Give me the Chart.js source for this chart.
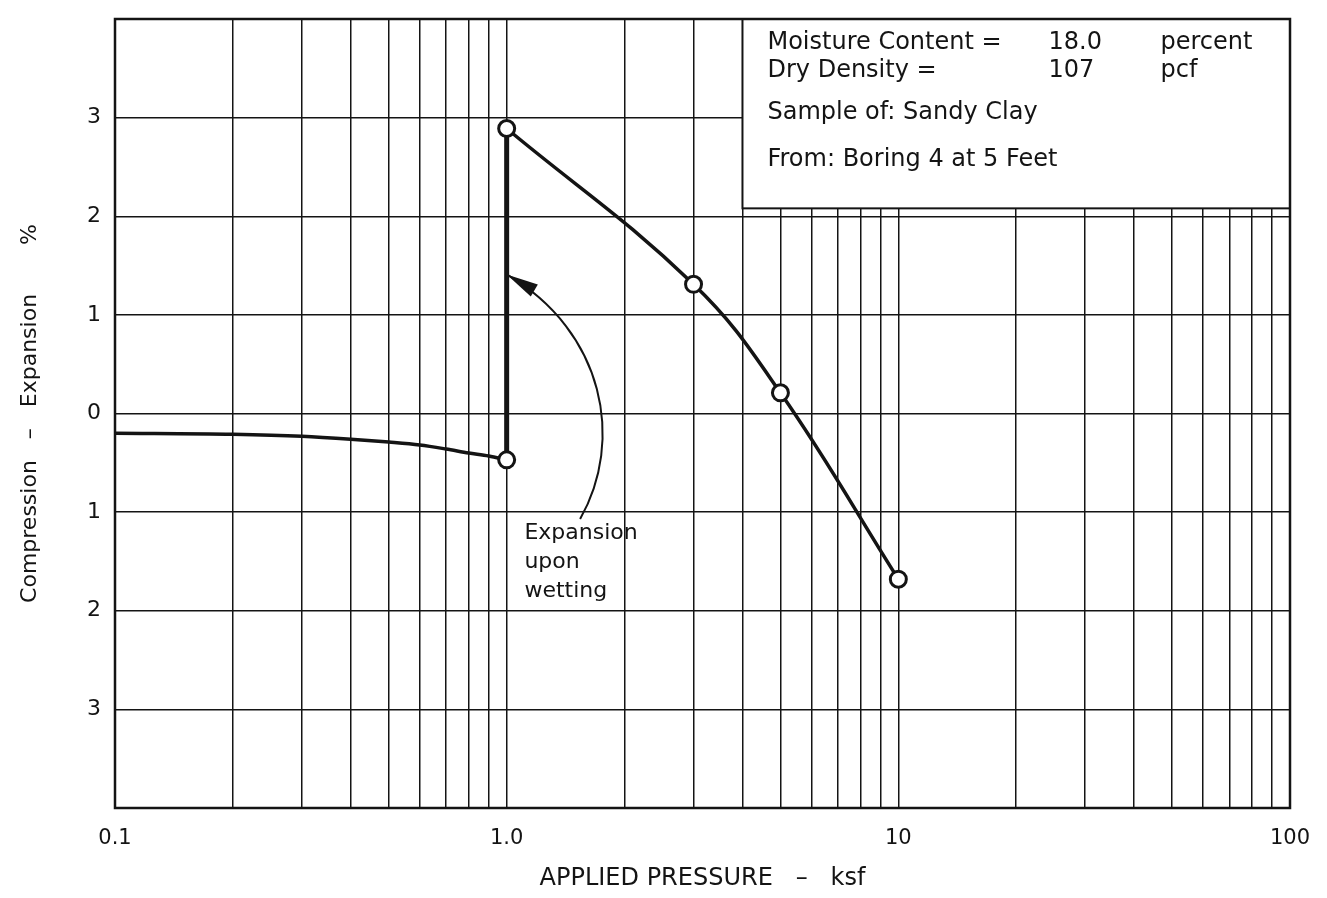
<!DOCTYPE html>
<html lang="en">
<head>
    <meta charset="UTF-8">
    <script src="https://cdn.jsdelivr.net/npm/chart.js@4.4.0/dist/chart.umd.min.js"></script>
    <title>Swell test</title>
    <style>
        html, body { margin: 0; padding: 0; background: #fff; }
    </style>
</head>
<body>
    <canvas id="myChart" width="1327" height="898"></canvas>
    <script>
        // seating load, before wetting
        const dryPressure = [0.1, 0.2, 0.3, 0.4, 0.5, 0.6, 0.7, 0.8, 0.9, 1.0];
        const dryStrain = [-0.20, -0.21, -0.23, -0.26, -0.29, -0.32, -0.36, -0.40, -0.43, -0.47];
        // wetting at 1.0 ksf
        const wetPressure = [1.0, 1.0];
        const wetStrain = [-0.47, 2.89];
        // loading after wetting
        const loadPressure = [1.0, 3.0, 5.0, 10.0];
        const loadStrain = [2.89, 1.31, 0.21, -1.68];

        const xTicks = [0.1, 0.2, 0.3, 0.4, 0.5, 0.6, 0.7, 0.8, 0.9,
            1, 2, 3, 4, 5, 6, 7, 8, 9,
            10, 20, 30, 40, 50, 60, 70, 80, 90, 100];
        const xLabelValues = [0.1, 1, 10, 100];
        const xLabelText = ['0.1', '1.0', '10', '100'];

        const infoRows = [
            ['Moisture Content =', '18.0', 'percent'],
            ['Dry Density =', '107', 'pcf']
        ];
        const infoLines = ['Sample of: Sandy Clay', 'From: Boring 4 at 5 Feet'];
        const noteLines = ['Expansion', 'upon', 'wetting'];

        const ink = '#141414';
        const font = 'DejaVu Sans';

        function xy(xs, ys) {
            return xs.map((x, i) => ({ x: x, y: ys[i] }));
        }

        // white info box over the grid, frame, note and arrow
        const extras = {
            id: 'extras',
            beforeDatasetsDraw(chart) {
                const { ctx, chartArea, scales: { x, y } } = chart;
                const bx = x.getPixelForValue(4);
                const by = y.getPixelForValue(2.08);
                ctx.save();
                ctx.fillStyle = '#fff';
                ctx.fillRect(bx, chartArea.top, chartArea.right - bx, by - chartArea.top);
                ctx.strokeStyle = ink;
                ctx.lineWidth = 2;
                ctx.strokeRect(bx, chartArea.top, chartArea.right - bx, by - chartArea.top);

                ctx.fillStyle = ink;
                ctx.font = '24px "' + font + '"';
                ctx.textBaseline = 'middle';
                ctx.textAlign = 'left';
                const colX = [bx + 25, bx + 306, bx + 418];
                infoRows.forEach((row, r) => {
                    row.forEach((t, c) => ctx.fillText(t, colX[c], chartArea.top + 24 + r * 28));
                });
                infoLines.forEach((t, i) => ctx.fillText(t, colX[0], chartArea.top + 94 + i * 47));

                // note text
                ctx.font = '22px "' + font + '"';
                const nx = x.getPixelForValue(1.11);
                const ny = y.getPixelForValue(-1.21);
                noteLines.forEach((t, i) => ctx.fillText(t, nx, ny + i * 29));

                // curved arrow
                const S = [x.getPixelForValue(1.54), y.getPixelForValue(-1.07)];
                const C1 = [x.getPixelForValue(2.0), y.getPixelForValue(-0.28)];
                const C2 = [x.getPixelForValue(1.78), y.getPixelForValue(0.83)];
                const T = [x.getPixelForValue(1.0), y.getPixelForValue(1.41)];
                ctx.lineWidth = 2;
                ctx.beginPath();
                ctx.moveTo(S[0], S[1]);
                ctx.bezierCurveTo(C1[0], C1[1], C2[0], C2[1], T[0], T[1]);
                ctx.stroke();
                const ang = Math.atan2(T[1] - C2[1], T[0] - C2[0]);
                const len = 32, half = 7;
                ctx.beginPath();
                ctx.moveTo(T[0], T[1]);
                ctx.lineTo(T[0] - len * Math.cos(ang) + half * Math.sin(ang), T[1] - len * Math.sin(ang) - half * Math.cos(ang));
                ctx.lineTo(T[0] - len * Math.cos(ang) - half * Math.sin(ang), T[1] - len * Math.sin(ang) + half * Math.cos(ang));
                ctx.closePath();
                ctx.fill();
                ctx.restore();
            },
            afterDatasetsDraw(chart) {
                const { ctx, chartArea } = chart;
                ctx.save();
                ctx.strokeStyle = ink;
                ctx.lineWidth = 2.5;
                ctx.strokeRect(chartArea.left, chartArea.top, chartArea.right - chartArea.left, chartArea.bottom - chartArea.top);
                ctx.restore();
            }
        };

        const ctx = document.getElementById('myChart').getContext('2d');
        const myChart = new Chart(ctx, {
            type: 'line',
            data: {
                datasets: [{
                    label: 'wetting',
                    data: xy(wetPressure, wetStrain),
                    borderColor: ink,
                    borderWidth: 5,
                    pointRadius: 0,
                    order: 3
                }, {
                    label: 'before wetting',
                    data: xy(dryPressure, dryStrain),
                    borderColor: ink,
                    borderWidth: 3.5,
                    cubicInterpolationMode: 'monotone',
                    pointRadius: c => c.dataIndex === dryPressure.length - 1 ? 8 : 0,
                    pointBackgroundColor: '#fff',
                    pointBorderColor: ink,
                    pointBorderWidth: 3,
                    order: 2
                }, {
                    label: 'after wetting',
                    data: xy(loadPressure, loadStrain),
                    borderColor: ink,
                    borderWidth: 3.5,
                    tension: 0.4,
                    pointRadius: 8,
                    pointBackgroundColor: '#fff',
                    pointBorderColor: ink,
                    pointBorderWidth: 3,
                    order: 1
                }]
            },
            options: {
                responsive: false,
                animation: false,
                layout: { padding: { top: 19, right: 37, left: 0, bottom: 0 } },
                plugins: {
                    legend: { display: false },
                    tooltip: { enabled: false }
                },
                scales: {
                    x: {
                        type: 'logarithmic',
                        min: 0.1,
                        max: 100,
                        afterBuildTicks: s => { s.ticks = xTicks.map(v => ({ value: v })); },
                        afterFit: s => { s.height = 90; s.paddingLeft = 0; s.paddingRight = 0; },
                        grid: { color: ink, lineWidth: 1.5, drawTicks: false },
                        border: { display: false },
                        ticks: {
                            autoSkip: false,
                            maxRotation: 0,
                            padding: 18,
                            color: ink,
                            font: { family: font, size: 21 },
                            callback: v => {
                                const i = xLabelValues.indexOf(v);
                                return i < 0 ? '' : xLabelText[i];
                            }
                        },
                        title: {
                            display: true,
                            text: 'APPLIED PRESSURE   –   ksf',
                            color: ink,
                            font: { family: font, size: 24 },
                            padding: { top: 0, bottom: 5 }
                        }
                    },
                    y: {
                        min: -4,
                        max: 4,
                        afterFit: s => { s.width = 115; s.paddingTop = 0; s.paddingBottom = 0; },
                        grid: { color: ink, lineWidth: 1.5, drawTicks: false },
                        border: { display: false },
                        ticks: {
                            stepSize: 1,
                            padding: 14,
                            color: ink,
                            font: { family: font, size: 22 },
                            callback: v => (v === 4 || v === -4) ? '' : String(Math.abs(v))
                        },
                        title: {
                            display: true,
                            text: 'Compression   –   Expansion       %',
                            color: ink,
                            font: { family: font, size: 22 },
                            padding: { top: 17, bottom: 0 }
                        }
                    }
                }
            },
            plugins: [extras]
        });
    </script>
</body>
</html>
